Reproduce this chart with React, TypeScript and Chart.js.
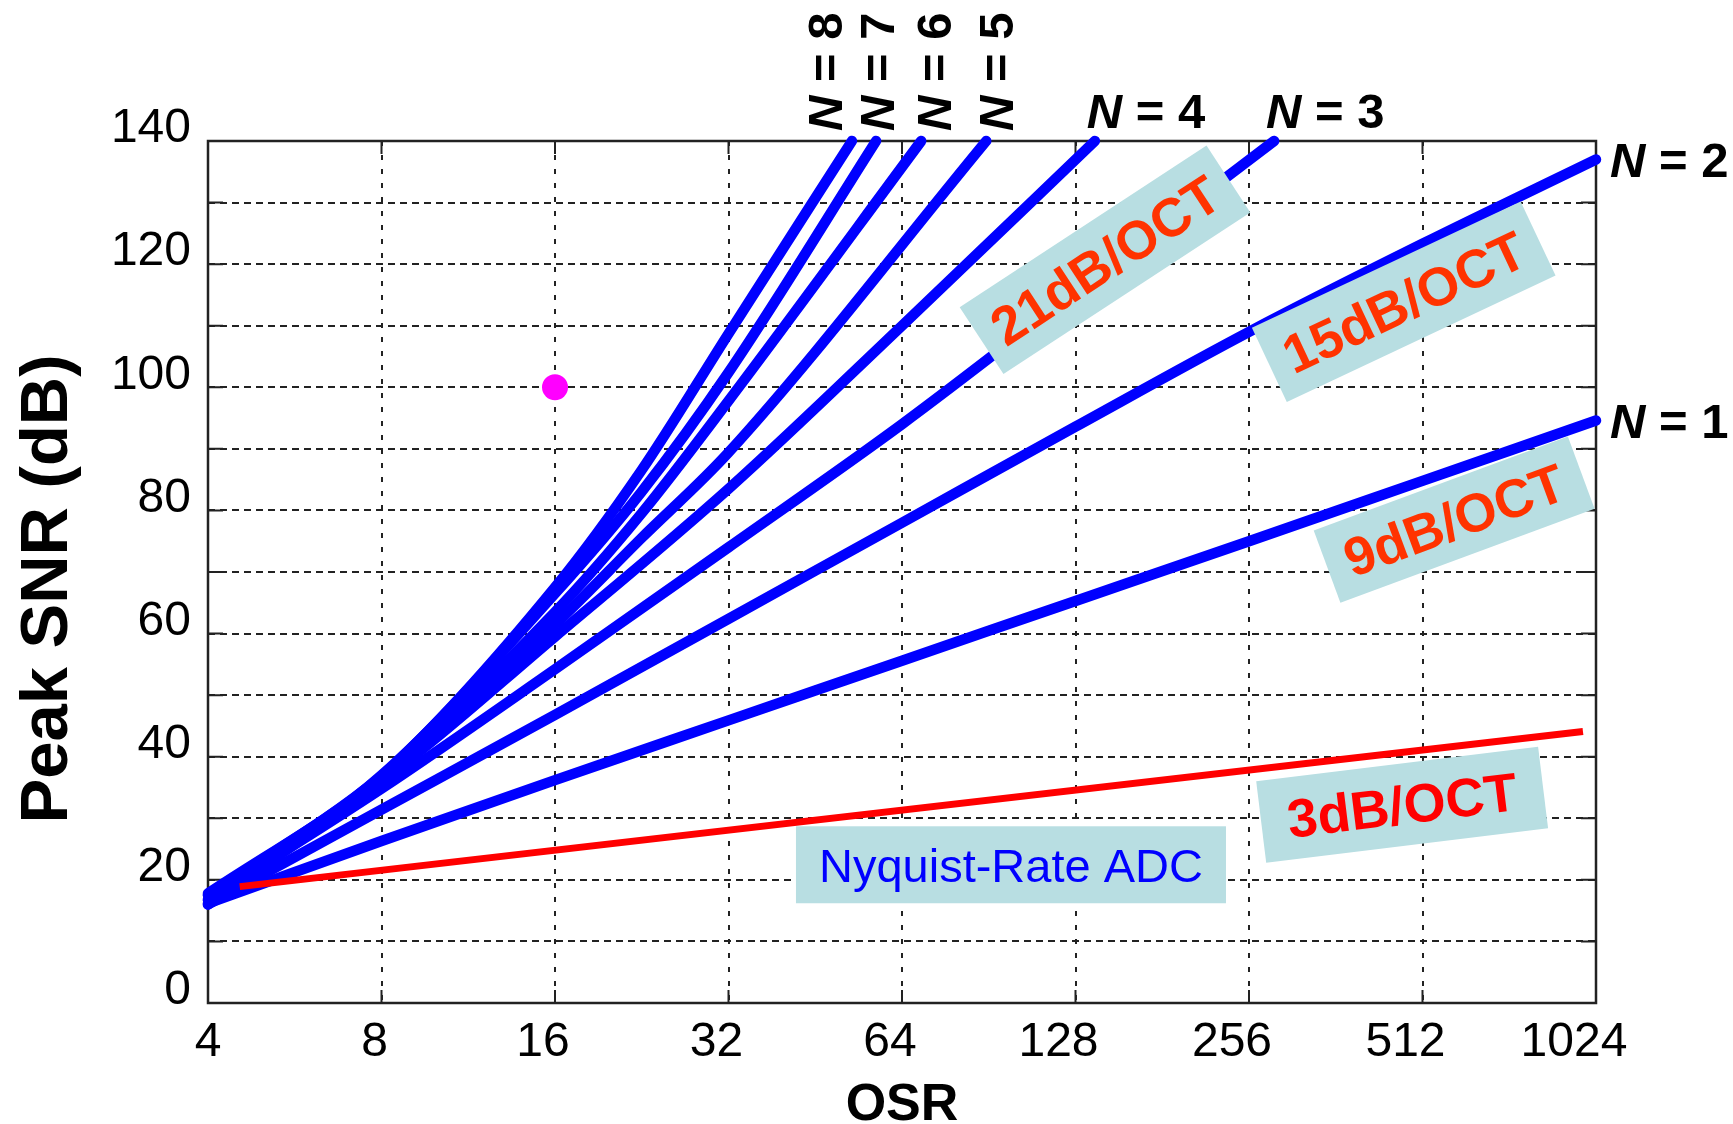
import React, { useEffect, useRef } from 'react';
import { Chart, registerables } from 'chart.js';

Chart.register(...registerables);

const FONT = "'Liberation Sans', Arial, Helvetica, sans-serif";

// ---- axes ----
const xTickValues = [4, 8, 16, 32, 64, 128, 256, 512, 1024];
const xTickLabels = ['4', '8', '16', '32', '64', '128', '256', '512', '1024'];
const yMin = 0;
const yMax = 140;
const yStep = 10;
const yLabelStep = 20;

// ---- data (OSR vs peak SNR, dB) ----
const osrN1 = [4, 8, 16, 32, 64, 128, 256, 512, 1024];
const snrN1 = [16.2, 26.3, 36.2, 45.9, 55.6, 65.3, 75.0, 84.8, 94.6];
const osrN2 = [4, 8, 16, 32, 64, 128, 256, 512, 1024];
const snrN2 = [16.0, 31.4, 46.8, 62.4, 78.0, 93.6, 109.0, 123.3, 137.0];
const osrN3 = [4, 8, 16, 32, 64, 128, 283];
const snrN3 = [16.8, 34.8, 54.2, 74.0, 94.0, 115.5, 140];
const osrN4 = [4, 8, 16, 32, 64, 138.3];
const snrN4 = [17.6, 36.0, 59.5, 83.5, 110.0, 140];
const osrN5 = [4, 8, 16, 22.6, 32, 89.6];
const snrN5 = [17.8, 36.5, 61.5, 75.5, 89.4, 140];
const osrN6 = [4, 8, 16, 22.6, 32, 69.1];
const snrN6 = [17.5, 36.8, 63.5, 79.5, 97.8, 140];
const osrN7 = [4, 8, 16, 22.6, 32, 57.7];
const snrN7 = [16.8, 37.0, 66.5, 83.0, 102.4, 140];
const osrN8 = [4, 8, 16, 22.6, 32, 52.4];
const snrN8 = [16.0, 36.8, 67.5, 86.5, 108.7, 140];
const osrNyquist = [4.54, 972];
const snrNyquist = [18.9, 44.1];
const markerOSR = [16];
const markerSNR = [100];

const orders = [1, 2, 3, 4, 5, 6, 7, 8];
const osrByOrder = [osrN1, osrN2, osrN3, osrN4, osrN5, osrN6, osrN7, osrN8];
const snrByOrder = [snrN1, snrN2, snrN3, snrN4, snrN5, snrN6, snrN7, snrN8];

// ---- annotation text ----
const slopeTexts = ['21dB/OCT', '15dB/OCT', '9dB/OCT', '3dB/OCT'];
const nyquistText = 'Nyquist-Rate ADC';

// annotation layout (centres in data coords, sizes in px)
const slopeLayout = [
  { osr: 144, snr: 120.7, w: 295, h: 80, angle: -33.2, color: '#ff3300' },
  { osr: 475, snr: 113.9, w: 297, h: 82, angle: -25.2, color: '#ff3300' },
  { osr: 581, snr: 78.5, w: 271, h: 77, angle: -20.3, color: '#ff3300' },
  { osr: 472, snr: 32.2, w: 284, h: 82, angle: -7.0, color: '#ff0000' },
];
const nyquistLayout = { osrL: 41.9, osrR: 233.5, snrT: 28.7, snrB: 16.2 };
const rotatedLabelOSR: Record<number, number> = { 5: 92.9, 6: 72.5, 7: 57.9, 8: 46.9 };

const BOX_FILL = '#b8dee2';

function xy(osr: number[], snr: number[]) {
  return osr.map((x, i) => ({ x, y: snr[i] }));
}

function drawNLabel(ctx: CanvasRenderingContext2D, n: number, x: number, y: number, size: number) {
  ctx.font = `italic bold ${size}px ${FONT}`;
  ctx.fillText('N', x, y);
  const w = ctx.measureText('N').width;
  ctx.font = `bold ${size}px ${FONT}`;
  ctx.fillText(` = ${n}`, x + w, y);
}

const decorPlugin = {
  id: 'decor',
  beforeDatasetsDraw(chart: any) {
    const { ctx, chartArea: a, scales } = chart;
    const xs = scales.x;
    const ys = scales.y;
    ctx.save();
    ctx.strokeStyle = '#222';
    ctx.lineWidth = 2;
    ctx.setLineDash([]);
    ctx.beginPath();
    for (const v of xTickValues) {
      const px = xs.getPixelForValue(v);
      ctx.moveTo(px, a.bottom);
      ctx.lineTo(px, a.bottom - 13);
      ctx.moveTo(px, a.top);
      ctx.lineTo(px, a.top + 13);
    }
    for (let v = yMin; v <= yMax; v += yStep) {
      const py = ys.getPixelForValue(v);
      ctx.moveTo(a.left, py);
      ctx.lineTo(a.left + 15, py);
      ctx.moveTo(a.right, py);
      ctx.lineTo(a.right - 15, py);
    }
    ctx.stroke();
    ctx.lineWidth = 2.5;
    ctx.strokeRect(a.left, a.top, a.right - a.left, a.bottom - a.top);

    // x tick labels
    ctx.fillStyle = '#000';
    ctx.font = `48px ${FONT}`;
    ctx.textAlign = 'center';
    ctx.textBaseline = 'alphabetic';
    xTickValues.forEach((v, i) => {
      const label = xTickLabels[i];
      const shift = i === 0 ? 0 : -(5 * label.length + 2);
      ctx.fillText(label, xs.getPixelForValue(v) + shift, a.bottom + 53);
    });
    ctx.restore();
  },
  afterDatasetsDraw(chart: any) {
    const { ctx, chartArea: a, scales } = chart;
    const xs = scales.x;
    const ys = scales.y;
    ctx.save();

    // slope boxes
    slopeLayout.forEach((b, i) => {
      const cx = xs.getPixelForValue(b.osr);
      const cy = ys.getPixelForValue(b.snr);
      ctx.save();
      ctx.translate(cx, cy);
      ctx.rotate((b.angle * Math.PI) / 180);
      ctx.fillStyle = BOX_FILL;
      ctx.fillRect(-b.w / 2, -b.h / 2, b.w, b.h);
      const size = 54;
      ctx.font = `bold ${size}px ${FONT}`;
      ctx.fillStyle = b.color;
      ctx.textAlign = 'center';
      ctx.textBaseline = 'alphabetic';
      ctx.fillText(slopeTexts[i], 0, size * 0.358);
      ctx.restore();
    });

    // Nyquist box
    {
      const l = xs.getPixelForValue(nyquistLayout.osrL);
      const r = xs.getPixelForValue(nyquistLayout.osrR);
      const t = ys.getPixelForValue(nyquistLayout.snrT);
      const bt = ys.getPixelForValue(nyquistLayout.snrB);
      ctx.fillStyle = BOX_FILL;
      ctx.fillRect(l, t, r - l, bt - t);
      const size = 47;
      ctx.font = `${size}px ${FONT}`;
      ctx.fillStyle = '#0000ff';
      ctx.textAlign = 'center';
      ctx.textBaseline = 'alphabetic';
      ctx.fillText(nyquistText, (l + r) / 2, (t + bt) / 2 + size * 0.358);
    }

    // N labels
    ctx.fillStyle = '#000';
    ctx.textAlign = 'left';
    const size = 49;
    orders.forEach((n, i) => {
      const osr = osrByOrder[i];
      const snr = snrByOrder[i];
      const ex = xs.getPixelForValue(osr[osr.length - 1]);
      const ey = ys.getPixelForValue(snr[snr.length - 1]);
      if (n <= 2) {
        ctx.textBaseline = 'alphabetic';
        drawNLabel(ctx, n, ex + 14, ey + size * 0.358, size);
      } else if (n <= 4) {
        ctx.textBaseline = 'alphabetic';
        drawNLabel(ctx, n, ex - 8, a.top - 13, size);
      } else {
        const cx = xs.getPixelForValue(rotatedLabelOSR[n]);
        ctx.save();
        ctx.translate(cx, a.top - 10);
        ctx.rotate(-Math.PI / 2);
        ctx.textBaseline = 'alphabetic';
        drawNLabel(ctx, n, 0, size * 0.358, size);
        ctx.restore();
      }
    });

    // axis titles
    ctx.fillStyle = '#000';
    ctx.save();
    const ySize = 67;
    ctx.font = `bold ${ySize}px ${FONT}`;
    ctx.translate(43.5, (a.top + a.bottom) / 2 + 17);
    ctx.rotate(-Math.PI / 2);
    ctx.textAlign = 'center';
    ctx.textBaseline = 'alphabetic';
    ctx.fillText('Peak SNR (dB)', 0, ySize * 0.358);
    ctx.restore();

    ctx.font = `bold 52px ${FONT}`;
    ctx.textAlign = 'center';
    ctx.textBaseline = 'alphabetic';
    ctx.fillText('OSR', (a.left + a.right) / 2, a.bottom + 117);

    ctx.restore();
  },
};

export default function App() {
  const ref = useRef<HTMLCanvasElement>(null);

  useEffect(() => {
    if (!ref.current) return;
    const blueSets = orders.map((n, i) => ({
      type: 'line' as const,
      label: `N = ${n}`,
      data: xy(osrByOrder[i], snrByOrder[i]),
      borderColor: '#0000ff',
      backgroundColor: '#0000ff',
      borderWidth: 10.5,
      pointRadius: 0,
      cubicInterpolationMode: 'monotone' as const,
      borderCapStyle: 'round' as const,
      borderJoinStyle: 'round' as const,
      fill: false,
      clip: false as any,
    }));
    const chart = new Chart(ref.current, {
      type: 'line',
      data: {
        datasets: [
          {
            label: 'marker',
            data: xy(markerOSR, markerSNR),
            showLine: false,
            pointRadius: 13,
            pointBackgroundColor: '#ff00ff',
            pointBorderWidth: 0,
            borderColor: '#ff00ff',
          },
          {
            label: 'Nyquist-Rate ADC',
            data: xy(osrNyquist, snrNyquist),
            borderColor: '#ff0000',
            borderWidth: 7,
            pointRadius: 0,
            fill: false,
          },
          ...blueSets,
        ] as any,
      },
      options: {
        responsive: false,
        animation: false,
        devicePixelRatio: 1,
        layout: { padding: { left: 0, top: 141, right: 137, bottom: 0 } },
        plugins: {
          legend: { display: false },
          tooltip: { enabled: false },
          title: { display: false },
        },
        scales: {
          x: {
            type: 'logarithmic',
            min: 4,
            max: 1024,
            afterBuildTicks: (scale: any) => {
              scale.ticks = xTickValues.map((v) => ({ value: v }));
            },
            afterFit: (scale: any) => {
              scale.height = 121;
            },
            ticks: {
              display: false,
              autoSkip: false,
              maxRotation: 0,
              minRotation: 0,
            },
            grid: { color: '#222', lineWidth: 2, drawTicks: false },
            border: { display: false, dash: [5, 9] },
          },
          y: {
            type: 'linear',
            min: yMin,
            max: yMax,
            afterFit: (scale: any) => {
              scale.width = 208;
            },
            ticks: {
              stepSize: yStep,
              padding: 17,
              labelOffset: -12,
              color: '#000',
              font: { family: FONT, size: 48 },
              callback: (v: any) => (Number(v) % yLabelStep === 0 ? String(v) : ''),
            },
            grid: { color: '#222', lineWidth: 2, drawTicks: false },
            border: { display: false, dash: [7, 5] },
          },
        },
      } as any,
      plugins: [decorPlugin],
    });
    return () => chart.destroy();
  }, []);

  return (
    <div style={{ position: 'fixed', left: 0, top: 0, width: 1733, height: 1124, background: '#fff' }}>
      <canvas ref={ref} width={1733} height={1124} style={{ display: 'block', width: 1733, height: 1124 }} />
    </div>
  );
}
